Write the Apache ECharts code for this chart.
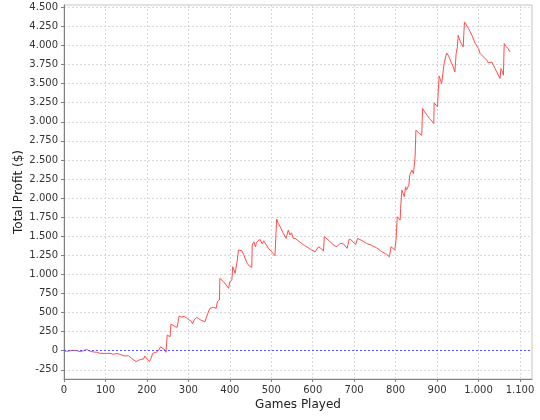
<!DOCTYPE html>
<html>
<head>
<meta charset="utf-8">
<script src="https://cdn.jsdelivr.net/npm/echarts@6/dist/echarts.min.js"></script>
<style>
html,body{margin:0;padding:0;background:#fff;}
#chart{width:540px;height:420px;}
</style>
</head>
<body>
<div id="chart"></div>
<script>
var gamesPlayed = [0,6,10,20,30,39,47,55,60,71,79,87,100,111,115,119,125,131,139,147,150,155,159,163,167,174,180,187,192,195,201,206,209,214,218,225,230,233,238,244,246,249,252,256,258,262,268,273,276,278,283,290,295,300,308,310,314,320,325,330,340,344,347,352,356,360,364,367,370,375,376,385,393,397,400,405,407,413,416,418,421,425,429,433,437,442,447,453,454,458,462,464,468,473,478,482,486,493,501,509,513,517,522,529,536,541,545,549,553,558,561,565,569,573,580,589,597,606,610,614,618,622,626,628,640,650,658,662,666,670,674,678,683,688,693,698,701,704,708,720,730,742,754,766,778,785,789,793,798,801,804,808,811,812,815,821,824,826,832,834,839,843,845,847,849,857,860,863,865,870,876,882,887,892,893,897,901,903,905,907,911,915,917,921,923,928,934,939,943,946,949,951,956,963,966,970,976,984,992,1000,1004,1012,1020,1024,1032,1036,1044,1052,1054,1058,1060,1062,1066,1071,1076];
var totalProfit = [0,-10,15,5,2,-13,0,18,0,-17,-20,-35,-35,-35,-13,-48,-38,-40,-57,-70,-55,-65,-78,-100,-122,-144,-125,-113,-110,-70,-113,-144,-113,-35,-25,-13,20,52,30,9,-21,205,190,183,350,330,315,306,402,454,440,450,430,411,380,350,402,437,420,402,380,359,490,555,540,570,555,555,642,664,948,904,847,817,904,926,1100,1013,1000,1188,1319,1296,1310,1266,1210,1144,1109,1092,1384,1427,1362,1410,1440,1458,1400,1440,1420,1341,1296,1244,1724,1668,1620,1537,1472,1580,1515,1545,1472,1470,1450,1440,1430,1406,1380,1349,1320,1296,1288,1362,1345,1332,1305,1493,1440,1384,1362,1341,1406,1390,1400,1380,1341,1463,1450,1419,1425,1393,1472,1440,1406,1380,1349,1300,1262,1231,1362,1341,1319,1450,1755,1730,1711,1864,2104,2017,2148,2104,2170,2301,2366,2320,2301,2540,2890,2846,2860,2824,3174,3130,3086,3040,3010,2977,3248,3230,3195,3414,3600,3567,3501,3676,3763,3741,3902,3860,3780,3719,3653,3894,3981,4134,4050,3981,4308,4295,4221,4134,4025,3960,3894,3850,3806,3771,3784,3741,3653,3567,3697,3650,3610,4025,3990,3960,3915];
var xTicks = [0,100,200,300,400,500,600,700,800,900,1000,1100];
var yTicks = [-250,0,250,500,750,1000,1250,1500,1750,2000,2250,2500,2750,3000,3250,3500,3750,4000,4250,4500];

function fmt(v){ return String(v).replace(/\B(?=(\d{3})+(?!\d))/g, '.'); }

var pts = gamesPlayed.map(function(x,i){ return [x, totalProfit[i]]; });

var chart = echarts.init(document.getElementById('chart'), null, {renderer:'canvas'});
chart.setOption({
  animation: false,
  backgroundColor: '#ffffff',
  grid: {left:64, right:8, top:5, bottom:41, show:true, borderColor:'#c4c4c4', borderWidth:1, backgroundColor:'#ffffff'},
  xAxis: {
    type:'value', min:0, max:1129,
    name:'Games Played', nameLocation:'middle', nameGap:20, nameMoveOverlap:false,
    nameTextStyle:{fontFamily:'DejaVu Sans', fontSize:12, color:'#222'},
    axisLine:{show:true, onZero:false, lineStyle:{color:'#808080', width:1}},
    axisTick:{show:true, length:3, customValues:xTicks, lineStyle:{color:'#808080'}},
    axisLabel:{customValues:xTicks, formatter:fmt, fontFamily:'DejaVu Sans', fontSize:10, color:'#333', margin:6},
    splitLine:{show:true, lineStyle:{color:'#d8d8d8', type:[2,2], width:1}}
  },
  yAxis: {
    type:'value', min:-371, max:4530,
    name:'Total Profit ($)', nameLocation:'middle', nameGap:39, nameMoveOverlap:false,
    nameTextStyle:{fontFamily:'DejaVu Sans', fontSize:12, color:'#222'},
    axisLine:{show:true, onZero:false, lineStyle:{color:'#808080', width:1}},
    axisTick:{show:true, length:3, customValues:yTicks, lineStyle:{color:'#808080'}},
    axisLabel:{customValues:yTicks, formatter:fmt, fontFamily:'DejaVu Sans', fontSize:10, color:'#333', margin:6},
    splitLine:{show:true, lineStyle:{color:'#d8d8d8', type:[2,2], width:1}}
  },
  series: [{
    type:'line', data:pts, showSymbol:false, symbol:'none',
    lineStyle:{color:'#ff4d4d', width:1},
    itemStyle:{color:'#ff4d4d'},
    z:3,
    markLine:{
      silent:true, symbol:['none','none'], label:{show:false},
      lineStyle:{color:'#5555ff', type:[2,2], width:1},
      data:[{yAxis:0}]
    }
  }]
});
</script>
</body>
</html>
